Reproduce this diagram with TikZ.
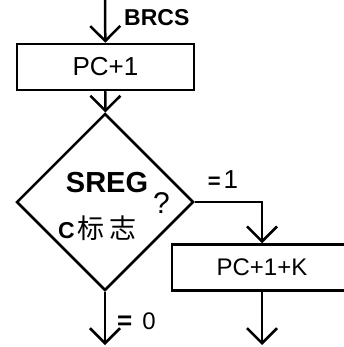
\documentclass[tikz,border=0pt]{standalone}
\usepackage{fontspec}
\setmainfont{Liberation Sans}
\newfontfamily\cjk{Noto Sans CJK SC}
\usepackage{tikz}
\usetikzlibrary{shapes.geometric, arrows.meta}
\tikzstyle{process} = [rectangle, minimum height=46pt, text centered, draw=black, line width=2.5pt, inner sep=0pt]
\tikzstyle{decision} = [diamond, aspect=1, minimum size=177pt, inner sep=0pt, draw=black, line width=2.5pt]
\tikzstyle{arrow} = [line width=2.5pt, -{Straight Barb[length=15pt, width=30pt]}]
\tikzstyle{tag} = [inner sep=0pt]

\begin{document}
\begin{tikzpicture}[x=1pt, y=-1pt]
    \clip (0,0) rectangle (344,347);
    \coordinate (in) at (105,0);
    \node (pc) [process, minimum width=177pt, font=\fontsize{26}{30}\selectfont] at (105.5,67) {PC+1};
    \node (check) [decision] at (105,202) {};
    \node (jump) [process, minimum width=180pt, font=\fontsize{24}{28}\selectfont] at (262,267.5) {PC+1+K};
    \coordinate (outno) at (105,345);
    \coordinate (outyes) at (262,345);

    \node (brcs) [tag, anchor=west, font=\fontsize{23}{26}\selectfont\bfseries] at (124,18) {BRCS};
    \node (sreg) [tag, font=\fontsize{29}{30}\selectfont\bfseries] at (107,183) {SREG};
    \node (ask) [tag, font=\fontsize{30}{32}\selectfont] at (161.5,203) {?};
    \node (cflag) [tag] at (97.5,228) {\fontsize{23}{24}\selectfont\bfseries C\hspace{3pt}\cjk\mdseries\fontsize{27}{28}\selectfont 标\hspace{5pt}志};
    \node (one) [tag] at (223,180) {\fontsize{22}{24}\selectfont\bfseries =\hspace{3pt}\mdseries\fontsize{26}{28}\selectfont 1};
    \node (zero) [tag, anchor=west] at (117,321) {\fontsize{26}{28}\selectfont\bfseries =\hspace{10pt}\mdseries\fontsize{24}{26}\selectfont 0};

    \draw [arrow] (in) -- (pc);
    \draw [arrow] (pc) -- (check);
    \draw [arrow] (check.south) -- (outno);
    \draw [arrow] (check.east) -| (jump.north);
    \draw [arrow] (jump) -- (outyes);
\end{tikzpicture}
\end{document}
